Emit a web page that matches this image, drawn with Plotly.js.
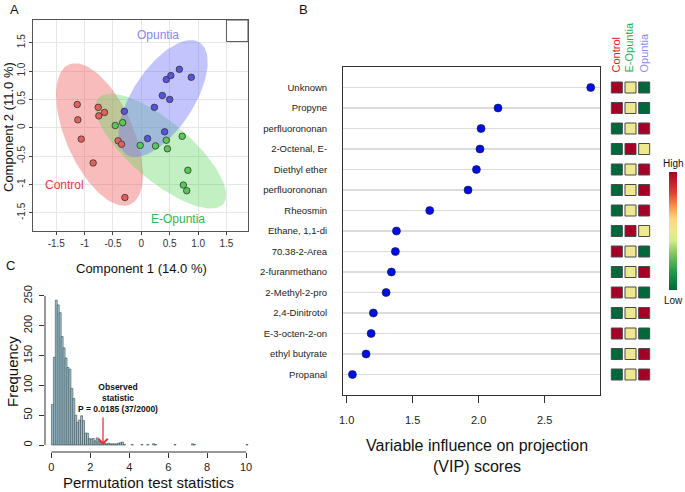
<!DOCTYPE html>
<html lang="en">
<head>
    <meta charset="UTF-8">
    <title>PLS-DA, VIP scores and permutation test</title>
    <script src="https://cdn.plot.ly/plotly-3.0.1.min.js"></script>
    <style>
        body { margin: 0; padding: 0; background: #fff; }
        #plot { width: 685px; height: 492px; }
    </style>
</head>
<body>
    <div id="plot"></div>
    <script>
        // ---- Panel A: PLS-DA scores ----
        const controlX = [-1.13, -1.12, -1.06, -0.85, -0.76, -0.75, -0.65, -0.41, -0.35, -0.29];
        const controlY = [0.41, 0.14, -0.20, -0.62, 0.36, 0.21, 0.27, -0.23, -0.29, -1.23];
        const opuntiaX = [-0.30, 0.11, 0.23, 0.37, 0.41, 0.44, 0.50, 0.52, 0.67, 0.88];
        const opuntiaY = [0.29, -0.19, 0.36, 0.57, -0.07, 0.85, 0.50, 0.92, 1.03, 0.89];
        const eOpuntiaX = [-0.46, -0.33, -0.02, 0.25, 0.44, 0.46, 0.72, 0.82, 0.74, 0.80];
        const eOpuntiaY = [0.04, 0.09, -0.31, -0.32, -0.22, -0.37, -0.15, -0.75, -1.01, -1.11];
        const pcaTicks = [-1.5, -1, -0.5, 0, 0.5, 1, 1.5];
        const pcaXTickText = ['-1.5', '-1', '-0.5', '0', '0.5', '1.0', '1.5'];
        const pcaYTickText = ['-1.5', '-1', '-0.5', '0', '0.5', '1.0', '1.5'];

        // ---- Panel B: VIP scores ----
        const vipCompounds = ['Unknown', 'Propyne', 'perfluorononan', '2-Octenal, E-', 'Diethyl ether',
            'perfluorononan', 'Rheosmin', 'Ethane, 1,1-di', '70.38-2-Area', '2-furanmethano',
            '2-Methyl-2-pro', '2,4-Dinitrotol', 'E-3-octen-2-on', 'ethyl butyrate', 'Propanal'];
        const vipScores = [2.845, 2.146, 2.018, 2.01, 1.983, 1.92, 1.631, 1.38, 1.372, 1.342,
            1.302, 1.206, 1.189, 1.151, 1.048];
        const vipTicks = [1, 1.5, 2, 2.5];
        const vipTickText = ['1.0', '1.5', '2.0', '2.5'];
        const heatGroups = ['Control', 'E-Opuntia', 'Opuntia'];
        // relative level per compound: 1 = high, 0.5 = middle, 0 = low
        const heatLevels = [
            [1, 0.5, 0], [1, 0.5, 0], [0, 0.5, 1], [0, 1, 0.5], [0, 0.5, 1],
            [0, 0.5, 1], [0, 0.5, 1], [0, 1, 0.5], [1, 0.5, 0], [0, 0.5, 1],
            [1, 0.5, 0], [0, 0.5, 1], [1, 0.5, 0], [0, 0.5, 1], [0, 0.5, 1]
        ];

        // ---- Panel C: permutation test histogram ----
        const permBins = [0.05, 0.15, 0.25, 0.35, 0.45, 0.55, 0.65, 0.75, 0.85, 0.95,
            1.05, 1.15, 1.25, 1.35, 1.45, 1.55, 1.65, 1.75, 1.85, 1.95,
            2.05, 2.15, 2.25, 2.35, 2.45, 2.55, 2.65, 2.75, 2.85, 2.95,
            3.05, 3.15, 3.25, 3.35, 3.45, 3.55, 3.65, 3.75,
            4.15, 4.65, 4.95, 5.25, 5.35, 6.35, 7.25, 7.35, 10.05];
        const permCounts = [68, 147, 243, 235, 222, 182, 163, 146, 130, 127,
            95, 78, 50, 38, 42, 49, 41, 20, 20, 11,
            10, 11, 7, 12, 6, 5, 3, 3, 2, 3,
            2, 2, 2, 2, 3, 4, 5, 1,
            1, 1, 1, 2, 1, 1, 2, 1, 1];
        const observedStat = 2.65;

        const W = 685, H = 492;
        const px = v => v / W;
        const py = v => 1 - v / H;
        const FONT = 'Liberation Sans, Arial, sans-serif';

        // 95% data ellipse from a group's covariance
        function dataEllipse(xs, ys) {
            const n = xs.length;
            const mx = xs.reduce((a, b) => a + b, 0) / n;
            const my = ys.reduce((a, b) => a + b, 0) / n;
            let sxx = 0, syy = 0, sxy = 0;
            for (let i = 0; i < n; i++) {
                sxx += (xs[i] - mx) ** 2;
                syy += (ys[i] - my) ** 2;
                sxy += (xs[i] - mx) * (ys[i] - my);
            }
            sxx /= n - 1; syy /= n - 1; sxy /= n - 1;
            const tr = sxx + syy, det = sxx * syy - sxy * sxy;
            const d = Math.sqrt(tr * tr / 4 - det);
            const l1 = tr / 2 + d, l2 = tr / 2 - d;
            const th = 0.5 * Math.atan2(2 * sxy, sxx - syy);
            const r = Math.sqrt(5.991);
            const ex = [], ey = [];
            for (let k = 0; k <= 120; k++) {
                const t = 2 * Math.PI * k / 120;
                const a = r * Math.sqrt(l1) * Math.cos(t), b = r * Math.sqrt(l2) * Math.sin(t);
                ex.push(mx + a * Math.cos(th) - b * Math.sin(th));
                ey.push(my + a * Math.sin(th) + b * Math.cos(th));
            }
            return { x: ex, y: ey };
        }

        const groups = [
            { xs: controlX, ys: controlY, fill: 'rgba(238,95,95,0.42)', dot: '#e4605c' },
            { xs: eOpuntiaX, ys: eOpuntiaY, fill: 'rgba(95,215,95,0.38)', dot: '#58c858' },
            { xs: opuntiaX, ys: opuntiaY, fill: 'rgba(115,115,250,0.42)', dot: '#5454dc' }
        ];

        const traces = [];
        groups.forEach(g => {
            const e = dataEllipse(g.xs, g.ys);
            traces.push({ x: e.x, y: e.y, xaxis: 'x', yaxis: 'y', mode: 'lines', fill: 'toself',
                fillcolor: g.fill, line: { width: 0 }, hoverinfo: 'skip', showlegend: false });
        });
        groups.forEach(g => {
            traces.push({ x: g.xs, y: g.ys, xaxis: 'x', yaxis: 'y', mode: 'markers', showlegend: false,
                marker: { color: g.dot, size: 6.5, line: { color: '#333', width: 0.8 } } });
        });

        // VIP dot plot
        const rows = vipCompounds.map((_, i) => i + 1);
        traces.push({ x: vipScores, y: rows, xaxis: 'x2', yaxis: 'y2', mode: 'markers', showlegend: false,
            marker: { color: '#0010e0', size: 8, line: { color: '#101050', width: 0.6 } } });

        // group level squares
        const hx = [], hy = [], hc = [];
        heatLevels.forEach((row, i) => row.forEach((v, j) => {
            hx.push(j + 1); hy.push(i + 1); hc.push(v);
        }));
        traces.push({ x: hx, y: hy, xaxis: 'x3', yaxis: 'y3', mode: 'markers', showlegend: false,
            marker: { symbol: 'square', size: 11, color: hc, cmin: 0, cmax: 1,
                colorscale: [[0, '#00683a'], [0.15, '#1c9a4b'], [0.3, '#7dc25c'], [0.42, '#d5ec8c'],
                    [0.5, '#eee98e'], [0.6, '#fdd77d'], [0.7, '#f99a4e'], [0.82, '#e0422c'], [1, '#a50026']],
                line: { color: '#4a4a4a', width: 1 },
                colorbar: { x: px(669), xanchor: 'left', xpad: 0, ypad: 0, thickness: 8,
                    len: 118 / H, lenmode: 'fraction', y: py(231), yanchor: 'middle',
                    outlinewidth: 0, showticklabels: false, ticks: '' } } });

        // permutation histogram
        traces.push({ type: 'bar', x: permBins, y: permCounts, width: 0.1, xaxis: 'x4', yaxis: 'y4',
            showlegend: false, marker: { color: '#a6cad5', line: { color: '#34474f', width: 0.6 } } });

        const ann = (text, x, y, size, extra) => Object.assign({
            text: text, x: px(x), y: py(y), xref: 'paper', yref: 'paper', showarrow: false,
            xanchor: 'center', yanchor: 'middle',
            font: { family: FONT, size: size, color: '#111' }
        }, extra || {});
        const dataAnn = (text, x, y, color) => ({
            text: text, x: x, y: y, xref: 'x', yref: 'y', showarrow: false,
            xanchor: 'center', yanchor: 'middle', font: { family: FONT, size: 12, color: color }
        });

        const annotations = [
            ann('A', 14, 9, 13),
            ann('B', 303, 9, 13),
            ann('C', 10, 265, 13),
            ann('Component 1 (14.0 %)', 141, 268, 13),
            ann('Component 2 (11.0 %)', 9, 127, 13, { textangle: -90 }),
            dataAnn('Opuntia', 0.29, 1.64, '#8585f2'),
            dataAnn('Control', -1.36, -1.01, '#e63b3b'),
            dataAnn('E-Opuntia', 0.64, -1.61, '#2fb84e'),
            ann('Variable influence on projection<br>(VIP) scores', 477, 456, 16),
            ann('Control', 615, 75, 11, { textangle: -90, yanchor: 'bottom', font: { family: FONT, size: 11, color: '#e8141e' } }),
            ann('E-Opuntia', 628.5, 75, 11, { textangle: -90, yanchor: 'bottom', font: { family: FONT, size: 11, color: '#22b04a' } }),
            ann('Opuntia', 643, 75, 11, { textangle: -90, yanchor: 'bottom', font: { family: FONT, size: 11, color: '#8a8af6' } }),
            ann('High', 673, 163, 10),
            ann('Low', 673, 300, 10),
            ann('Frequency', 12, 372, 15, { textangle: -90 }),
            ann('Permutation test statistics', 148, 482, 15),
            ann('<b>Observed<br>statistic<br>P = 0.0185 (37/2000)</b>', 118, 398, 8.5),
            { text: '', x: observedStat, y: 0, xref: 'x4', yref: 'y4', ax: 0, ay: -29,
                showarrow: true, arrowhead: 4, arrowsize: 1.4, arrowwidth: 1.3, arrowcolor: '#e8323c' }
        ];
        // VIP axis tick labels sit further below the box than plotly's default
        vipTicks.forEach((v, i) => annotations.push({
            text: vipTickText[i], x: v, y: py(420), xref: 'x2', yref: 'paper', showarrow: false,
            xanchor: 'center', yanchor: 'middle', font: { family: FONT, size: 11, color: '#222' }
        }));

        const tickFont = { family: FONT, size: 10, color: '#333' };
        const layout = {
            width: W, height: H,
            margin: { l: 0, r: 0, t: 0, b: 0 },
            paper_bgcolor: '#fff', plot_bgcolor: 'rgba(0,0,0,0)',
            font: { family: FONT },
            bargap: 0,
            xaxis: { domain: [px(33), px(248)], anchor: 'y', range: [-1.91, 1.88],
                tickvals: pcaTicks, ticktext: pcaXTickText, tickfont: tickFont,
                showgrid: true, gridcolor: '#e6e6e6', zeroline: false,
                showline: true, mirror: true, linecolor: '#555', linewidth: 1,
                ticks: 'outside', ticklen: 3, tickcolor: '#444' },
            yaxis: { domain: [py(231), py(20)], anchor: 'x', range: [-1.82, 1.90],
                tickvals: pcaTicks, ticktext: pcaYTickText, tickfont: tickFont, tickangle: -90,
                showgrid: true, gridcolor: '#e6e6e6', zeroline: false,
                showline: true, mirror: true, linecolor: '#555', linewidth: 1,
                ticks: 'outside', ticklen: 3, tickcolor: '#444' },
            xaxis2: { domain: [px(343), px(600)], anchor: 'y2', range: [0.977, 2.915],
                tickvals: vipTicks, showticklabels: false,
                showgrid: false, zeroline: false, showline: true, mirror: true,
                linecolor: '#333', linewidth: 1, ticks: 'outside', ticklen: 7, tickcolor: '#333' },
            yaxis2: { domain: [py(395), py(67)], anchor: 'x2', range: [16, 0],
                tickvals: rows, ticktext: vipCompounds,
                tickfont: { family: FONT, size: 9.5, color: '#222' },
                showgrid: true, gridcolor: '#dcdcdc', gridwidth: 1.5, zeroline: false,
                showline: true, mirror: true, linecolor: '#333', linewidth: 1,
                ticks: 'outside', ticklen: 13, tickcolor: 'rgba(0,0,0,0)' },
            xaxis3: { domain: [px(610), px(651)], anchor: 'y3', range: [0.5, 3.5], visible: false },
            yaxis3: { domain: [py(395), py(67)], anchor: 'x3', range: [16, 0], visible: false },
            xaxis4: { domain: [px(45), px(256)], anchor: 'y4', range: [-0.33, 10.51],
                tickvals: [0, 2, 4, 6, 8, 10], tickfont: { family: FONT, size: 11, color: '#222' },
                showgrid: false, zeroline: false, showline: false,
                ticks: 'outside', ticklen: 5, tickcolor: '#333' },
            yaxis4: { domain: [py(452), py(288)], anchor: 'x4', range: [-11.7, 263.4],
                tickvals: [0, 50, 100, 150, 200, 250], tickangle: -90,
                tickfont: { family: FONT, size: 11, color: '#222' },
                showgrid: false, zeroline: false, showline: false,
                ticks: 'outside', ticklen: 5, tickcolor: '#333', ticklabelstandoff: 3 },
            shapes: [
                { type: 'rect', xref: 'x', yref: 'y', x0: 1.5, x1: 1.88, y0: 1.52, y1: 1.90,
                    line: { color: '#555', width: 1 } },
                { type: 'line', xref: 'x4', yref: 'paper', x0: 0, x1: 10, y0: py(452), y1: py(452),
                    line: { color: '#333', width: 1 } },
                { type: 'line', xref: 'paper', yref: 'y4', x0: px(45), x1: px(45), y0: 0, y1: 250,
                    line: { color: '#333', width: 1 } }
            ],
            annotations: annotations
        };

        Plotly.newPlot('plot', traces, layout, { displayModeBar: false, staticPlot: true });
    </script>
</body>
</html>
